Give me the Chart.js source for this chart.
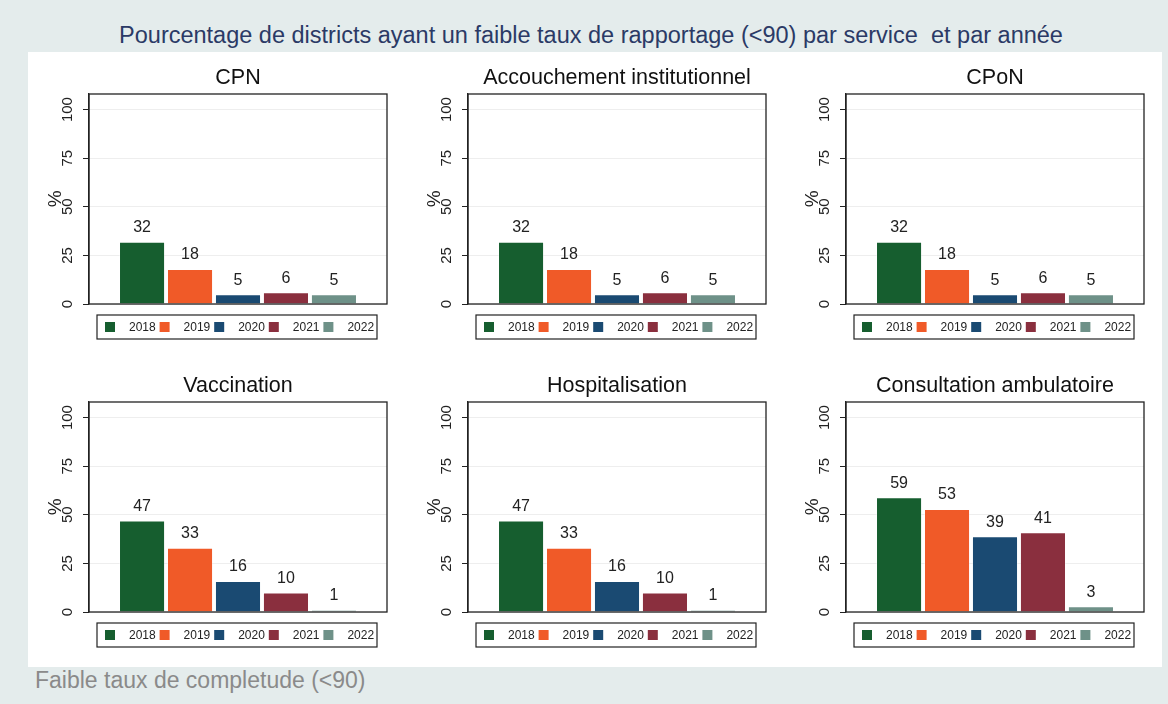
<!DOCTYPE html>
<html lang="fr">
<head>
<meta charset="utf-8">
<script src="https://cdn.jsdelivr.net/npm/chart.js@4/dist/chart.umd.min.js"></script>
<style>
  html,body{margin:0;padding:0;}
  body{width:1168px;height:704px;background:#e4ecec;position:relative;overflow:hidden;font-family:"Liberation Sans",Arial,sans-serif;}
  #heading{position:absolute;left:0;width:1182px;top:20px;text-align:center;font-size:23.5px;line-height:30px;color:#2b3a66;white-space:pre;}
  #panel{position:absolute;left:28px;top:52px;width:1134px;height:615px;background:#fff;}
  #footer{position:absolute;left:35px;top:665px;font-size:23px;line-height:30px;color:#8a8a8a;}
  .cell{position:absolute;width:358px;height:278px;}
</style>
</head>
<body>
<div id="heading">Pourcentage de districts ayant un faible taux de rapportage (&lt;90) par service  et par année</div>
<div id="panel"></div>
<div id="footer">Faible taux de completude (&lt;90)</div>

<div class="cell" style="left:39px;top:66px"><canvas id="c0"></canvas></div>
<div class="cell" style="left:418px;top:66px"><canvas id="c1"></canvas></div>
<div class="cell" style="left:796px;top:66px"><canvas id="c2"></canvas></div>
<div class="cell" style="left:39px;top:374px"><canvas id="c3"></canvas></div>
<div class="cell" style="left:418px;top:374px"><canvas id="c4"></canvas></div>
<div class="cell" style="left:796px;top:374px"><canvas id="c5"></canvas></div>

<script>
const services = ['CPN','Accouchement institutionnel','CPoN','Vaccination','Hospitalisation','Consultation ambulatoire'];
const years = ['2018','2019','2020','2021','2022'];
const yearColors = ['#165e2f','#f05a28','#1a4a72','#8a2f3e','#6e9188'];
// une ligne par service, une valeur par annee
const pctCPN = [32,18,5,6,5];
const pctAccouchement = [32,18,5,6,5];
const pctCPoN = [32,18,5,6,5];
const pctVaccination = [47,33,16,10,1];
const pctHospitalisation = [47,33,16,10,1];
const pctConsultation = [59,53,39,41,3];
const serviceValues = [pctCPN,pctAccouchement,pctCPoN,pctVaccination,pctHospitalisation,pctConsultation];
const yTicks = [0,25,50,75,100];

const FONT = '"Liberation Sans", Arial, sans-serif';

// cadre, titre, %, etiquettes de valeurs et legende encadree (style Stata)
const panelDeco = {
  id:'panelDeco',
  afterDatasetsDraw(chart){
    const ctx = chart.ctx;
    ctx.save();
    // valeurs au-dessus des barres
    ctx.fillStyle = '#222';
    ctx.font = '16px ' + FONT;
    ctx.textAlign = 'center';
    ctx.textBaseline = 'bottom';
    chart.data.datasets.forEach((ds,i)=>{
      const bar = chart.getDatasetMeta(i).data[0];
      ctx.fillText(String(ds.data[0]), bar.x, bar.y - 6);
    });
    ctx.restore();
  },
  afterDraw(chart){
    const ctx = chart.ctx, a = chart.chartArea;
    ctx.save();
    ctx.strokeStyle = '#222';
    ctx.lineWidth = 1.3;
    ctx.strokeRect(a.left, a.top, a.right - a.left, a.bottom - a.top);

    // titre du panneau
    ctx.fillStyle = '#111';
    ctx.font = '21.5px ' + FONT;
    ctx.textAlign = 'center';
    ctx.textBaseline = 'middle';
    ctx.fillText(chart.options.plugins.panelDeco.title, (a.left + a.right)/2, a.top - 16);

    // titre de l'axe y
    const y50 = chart.scales.y.getPixelForValue(50);
    ctx.save();
    ctx.translate(a.left - 33, y50 - 8);
    ctx.rotate(-Math.PI/2);
    ctx.font = '19px ' + FONT;
    ctx.fillStyle = '#222';
    ctx.fillText('%', 0, 0);
    ctx.restore();

    // legende
    const bx = a.left + 8, by = a.bottom + 11, bw = a.right - a.left - 18, bh = 24;
    ctx.lineWidth = 1.2;
    ctx.strokeRect(bx, by, bw, bh);
    ctx.font = '12px ' + FONT;
    ctx.textAlign = 'left';
    ctx.textBaseline = 'middle';
    const step = (bw - 7) / chart.data.datasets.length;
    chart.data.datasets.forEach((ds,i)=>{
      const x = bx + 8 + i*step;
      ctx.fillStyle = ds.backgroundColor;
      ctx.fillRect(x, by + bh/2 - 5, 10, 10);
      ctx.fillStyle = '#222';
      ctx.fillText(ds.label, x + 24, by + bh/2 + 0.5);
    });
    ctx.restore();
  }
};

services.forEach((name, k)=>{
  const vals = serviceValues[k];
  new Chart(document.getElementById('c' + k), {
    type:'bar',
    data:{
      labels:[name],
      datasets: years.map((yr,i)=>({
        label: yr,
        data: [vals[i]],
        backgroundColor: yearColors[i],
        borderColor: 'rgba(255,255,255,0.35)',
        borderWidth: 1,
        barPercentage: 0.96,
        categoryPercentage: 0.805
      }))
    },
    options:{
      responsive:true, maintainAspectRatio:false, animation:false,
      layout:{padding:{left:8, right:10, top:28, bottom:40}},
      scales:{
        x:{display:false},
        y:{
          min:0, max:108,
          afterBuildTicks: s => { s.ticks = yTicks.map(v=>({value:v})); },
          afterFit: s => { s.width = 42; },
          border:{display:true, color:'#222', width:1.3},
          grid:{color:'#eeeeee', tickColor:'#222', tickLength:6, lineWidth:1},
          ticks:{
            minRotation:90, maxRotation:90, crossAlign:'center', padding:3,
            color:'#222', font:{family:FONT, size:15}
          }
        }
      },
      plugins:{
        legend:{display:false},
        tooltip:{enabled:false},
        panelDeco:{title:name}
      }
    },
    plugins:[panelDeco]
  });
});
</script>
</body>
</html>
